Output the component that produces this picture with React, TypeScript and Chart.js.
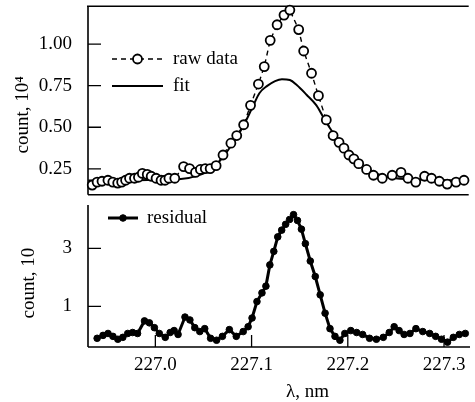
import React, { useEffect, useRef } from "react";
import { Chart, registerables } from "chart.js";
Chart.register(...registerables);

// ---- data ----
const rawX = [
  226.9344, 226.9395, 226.9446, 226.9508, 226.9559, 226.961, 226.9651, 226.9692, 226.9733, 226.9785,
  226.9826, 226.9867, 226.9918, 226.9959, 227.001, 227.0062, 227.0103, 227.0144, 227.0205, 227.0297,
  227.0359, 227.0421, 227.0472, 227.0523, 227.0574, 227.0636, 227.0708, 227.079, 227.0851, 227.0923,
  227.0995, 227.1077, 227.1138, 227.12, 227.1272, 227.1344, 227.1405, 227.1497, 227.1549, 227.1631,
  227.1703, 227.1785, 227.1856, 227.1918, 227.1969, 227.2021, 227.2072, 227.2123, 227.2205, 227.2277,
  227.2369, 227.2472, 227.2564, 227.2636, 227.2718, 227.281, 227.2882, 227.2964, 227.3046, 227.3138,
  227.3221,
];
const rawY = [
  0.152, 0.17, 0.175, 0.181, 0.17, 0.164, 0.17, 0.181, 0.193, 0.193,
  0.199, 0.222, 0.216, 0.205, 0.193, 0.181, 0.181, 0.193, 0.193, 0.263,
  0.251, 0.228, 0.246, 0.251, 0.251, 0.269, 0.333, 0.404, 0.45, 0.515,
  0.632, 0.76, 0.865, 1.023, 1.117, 1.175, 1.205, 1.088, 0.959, 0.825,
  0.69, 0.544, 0.45, 0.409, 0.374, 0.333, 0.31, 0.281, 0.246, 0.211,
  0.193, 0.211, 0.228, 0.193, 0.17, 0.205, 0.193, 0.175, 0.158, 0.17,
  0.181,
];
const fitX = [
  226.9303, 227.0246, 227.0451, 227.0605, 227.0718, 227.0821, 227.0913, 227.1015, 227.1087, 227.1169,
  227.1251, 227.1323, 227.1405, 227.1477, 227.1579, 227.1682, 227.1764, 227.1846, 227.1938, 227.2041,
  227.2144, 227.2297, 227.2503, 227.3272,
];
const fitY = [
  0.18, 0.187, 0.21, 0.257, 0.327, 0.415, 0.5, 0.62, 0.705, 0.749,
  0.778, 0.789, 0.784, 0.754, 0.696, 0.632, 0.55, 0.474, 0.398, 0.327,
  0.269, 0.222, 0.193, 0.18,
];
const resX = [
  226.9395, 226.9456, 226.9508, 226.9559, 226.961, 226.9662, 226.9713, 226.9764, 226.9815, 226.9887,
  226.9938, 226.999, 227.0041, 227.0103, 227.0154, 227.0195, 227.0236, 227.0308, 227.0359, 227.041,
  227.0462, 227.0513, 227.0574, 227.0636, 227.0697, 227.0769, 227.0841, 227.0913, 227.0964, 227.1005,
  227.1056, 227.1108, 227.1149, 227.119, 227.1231, 227.1272, 227.1313, 227.1354, 227.1395, 227.1436,
  227.1477, 227.1518, 227.1559, 227.161, 227.1662, 227.1713, 227.1764, 227.1815, 227.1867, 227.1918,
  227.1969, 227.2031, 227.2092, 227.2154, 227.2226, 227.2297, 227.2369, 227.2431, 227.2482, 227.2533,
  227.2585, 227.2646, 227.2708, 227.2779, 227.2851, 227.2913, 227.2974, 227.3036, 227.3097, 227.3159,
  227.3221,
];
const resY = [
  -0.1, 0.0, 0.067, -0.033, -0.133, -0.067, 0.067, 0.1, 0.067, 0.5,
  0.433, 0.267, 0.067, -0.067, 0.1, 0.167, 0.033, 0.633, 0.533, 0.267,
  0.133, 0.233, -0.1, -0.167, -0.033, 0.2, -0.033, 0.133, 0.3, 0.6,
  1.167, 1.467, 1.7, 2.433, 2.9, 3.4, 3.633, 3.833, 4.0, 4.167,
  3.967, 3.667, 3.167, 2.567, 2.033, 1.4, 0.767, 0.233, -0.033, -0.167,
  0.067, 0.167, 0.1, 0.033, -0.1, -0.133, -0.067, 0.1, 0.3, 0.167,
  0.033, 0.067, 0.233, 0.133, 0.067, -0.033, -0.133, -0.233, -0.067, 0.033,
  0.067,
];
const xTicks = [227.0, 227.1, 227.2, 227.3];
const topYTicks = [0.25, 0.5, 0.75, 1.0];
const botYTicks = [1, 3];
const X_MIN = 226.93;
const X_MAX = 227.327;
const TOP_MIN = 0.094;
const TOP_MAX = 1.228;
const BOT_MIN = -0.4;
const BOT_MAX = 4.5;

const FONT = "'Liberation Serif', 'Times New Roman', serif";
const FS = 19;

const framePlugin = {
  id: "frame",
  beforeDatasetsDraw(chart: any, _args: any, opts: any) {
    const { ctx, chartArea: a } = chart;
    ctx.save();
    ctx.strokeStyle = "#000";
    ctx.lineWidth = 1.6;
    ctx.beginPath();
    if (opts.top) {
      ctx.moveTo(a.left - 1, a.top);
      ctx.lineTo(a.right, a.top);
    }
    ctx.moveTo(a.left, a.top);
    ctx.lineTo(a.left, a.bottom);
    ctx.moveTo(a.left, a.bottom);
    ctx.lineTo(a.right, a.bottom);
    ctx.stroke();
    ctx.lineWidth = 1.3;
    ctx.beginPath();
    const ys = chart.scales.y;
    ys.ticks.forEach((t: any) => {
      const p = ys.getPixelForValue(t.value);
      ctx.moveTo(a.left, p);
      ctx.lineTo(a.left + 13, p);
    });
    const xs = chart.scales.x;
    if (opts.xticks && xs) {
      xs.ticks.forEach((t: any) => {
        const p = xs.getPixelForValue(t.value);
        ctx.moveTo(p, a.bottom);
        ctx.lineTo(p, a.bottom - 12);
      });
    }
    ctx.stroke();
    ctx.restore();
  },
};

const legendPlugin = {
  id: "miniLegend",
  afterDraw(chart: any, _args: any, opts: any) {
    const { ctx } = chart;
    ctx.save();
    (opts.items || []).forEach((it: any) => {
      const ds = chart.data.datasets[it.index];
      ctx.strokeStyle = "#000";
      ctx.lineWidth = ds.borderWidth;
      ctx.setLineDash(ds.borderDash || []);
      ctx.beginPath();
      ctx.moveTo(it.x0, it.y);
      ctx.lineTo(it.x1, it.y);
      ctx.stroke();
      ctx.setLineDash([]);
      if (ds.pointRadius > 0) {
        ctx.beginPath();
        ctx.arc((it.x0 + it.x1) / 2, it.y, ds.pointRadius, 0, Math.PI * 2);
        ctx.fillStyle = ds.pointBackgroundColor;
        ctx.fill();
        ctx.lineWidth = ds.pointBorderWidth;
        ctx.stroke();
      }
      ctx.fillStyle = "#000";
      ctx.font = `${FS}px ${FONT}`;
      ctx.textBaseline = "middle";
      ctx.textAlign = "left";
      ctx.fillText(ds.label, it.tx, it.y);
    });
    ctx.restore();
  },
};

function tickFont() {
  return { family: FONT, size: FS };
}

function noPadY(width: number) {
  return (ax: any) => {
    ax.width = width;
    ax.paddingTop = 0;
    ax.paddingBottom = 0;
  };
}

export default function App() {
  const topRef = useRef<HTMLCanvasElement>(null);
  const botRef = useRef<HTMLCanvasElement>(null);

  useEffect(() => {
    const rawPts = rawX.map((x, i) => ({ x, y: rawY[i] }));
    const fitPts = fitX.map((x, i) => ({ x, y: fitY[i] }));
    const resPts = resX.map((x, i) => ({ x, y: resY[i] }));

    const top = new Chart(topRef.current as HTMLCanvasElement, {
      type: "line",
      data: {
        datasets: [
          {
            label: "fit",
            data: fitPts,
            borderColor: "#000",
            borderWidth: 2,
            pointRadius: 0,
            cubicInterpolationMode: "monotone",
            fill: false,
            order: 2,
          } as any,
          {
            label: "raw data",
            data: rawPts,
            borderColor: "#000",
            borderWidth: 1.4,
            borderDash: [5, 4],
            pointRadius: 4.5,
            pointBackgroundColor: "#fff",
            pointBorderColor: "#000",
            pointBorderWidth: 1.8,
            fill: false,
            clip: false,
            order: 1,
          } as any,
        ],
      },
      options: {
        responsive: false,
        animation: false,
        layout: { padding: { top: 6, bottom: 1, left: 0, right: 0 } },
        plugins: {
          legend: { display: false },
          tooltip: { enabled: false },
          frame: { top: true, xticks: false },
          miniLegend: {
            items: [
              { index: 1, x0: 112, x1: 163, y: 59, tx: 173 },
              { index: 0, x0: 112, x1: 163, y: 86, tx: 173 },
            ],
          },
        } as any,
        scales: {
          x: { type: "linear", min: X_MIN, max: X_MAX, display: false },
          y: {
            type: "linear",
            min: TOP_MIN,
            max: TOP_MAX,
            grid: { display: false },
            border: { display: false },
            afterBuildTicks: (ax: any) => {
              ax.ticks = topYTicks.map((v) => ({ value: v }));
            },
            afterFit: noPadY(88),
            ticks: {
              padding: 8,
              color: "#000",
              font: tickFont(),
              callback: (v: any) => Number(v).toFixed(2),
            },
            title: {
              display: true,
              text: "count, 10\u2074\u2002\u2002\u2002",
              color: "#000",
              font: tickFont(),
              padding: { top: 12, bottom: 0 },
            },
          },
        },
      },
      plugins: [framePlugin, legendPlugin],
    });

    const bot = new Chart(botRef.current as HTMLCanvasElement, {
      type: "line",
      data: {
        datasets: [
          {
            label: "residual",
            data: resPts,
            borderColor: "#000",
            borderWidth: 3,
            pointRadius: 3.3,
            pointBackgroundColor: "#000",
            pointBorderColor: "#000",
            pointBorderWidth: 1,
            fill: false,
            clip: false,
          } as any,
        ],
      },
      options: {
        responsive: false,
        animation: false,
        layout: { padding: { top: 0, bottom: 0, left: 0, right: 0 } },
        plugins: {
          legend: { display: false },
          tooltip: { enabled: false },
          frame: { top: false, xticks: true },
          miniLegend: {
            items: [{ index: 0, x0: 108, x1: 138, y: 18, tx: 147 }],
          },
        } as any,
        scales: {
          x: {
            type: "linear",
            min: X_MIN,
            max: X_MAX,
            grid: { display: false },
            border: { display: false },
            afterBuildTicks: (ax: any) => {
              ax.ticks = xTicks.map((v) => ({ value: v }));
            },
            afterFit: (ax: any) => {
              ax.height = 55;
              ax.paddingLeft = 0;
              ax.paddingRight = 0;
            },
            ticks: {
              padding: -1,
              color: "#000",
              font: tickFont(),
              maxRotation: 0,
              autoSkip: false,
              callback: (v: any) => Number(v).toFixed(1),
            },
            title: {
              display: true,
              text: "\u2002\u2002\u2002\u2002\u2002\u2002λ, nm",
              color: "#000",
              font: tickFont(),
              padding: { top: 0, bottom: -1 },
            },
          },
          y: {
            type: "linear",
            min: BOT_MIN,
            max: BOT_MAX,
            grid: { display: false },
            border: { display: false },
            afterBuildTicks: (ax: any) => {
              ax.ticks = botYTicks.map((v) => ({ value: v }));
            },
            afterFit: noPadY(88),
            ticks: {
              padding: 8,
              color: "#000",
              font: tickFont(),
              callback: (v: any) => String(v),
            },
            title: {
              display: true,
              text: "count, 10\u2002 ",
              color: "#000",
              font: tickFont(),
              padding: { top: 18, bottom: 0 },
            },
          },
        },
      },
      plugins: [framePlugin, legendPlugin],
    });

    return () => {
      top.destroy();
      bot.destroy();
    };
  }, []);

  return (
    <div
      style={{
        position: "fixed",
        left: 0,
        top: 0,
        width: 475,
        height: 402,
        background: "#fff",
        overflow: "hidden",
      }}
    >
      <canvas
        ref={topRef}
        width={475}
        height={201}
        style={{ position: "absolute", left: 0, top: 0, width: 475, height: 201 }}
      />
      <canvas
        ref={botRef}
        width={475}
        height={202}
        style={{ position: "absolute", left: 0, top: 200, width: 475, height: 202 }}
      />
    </div>
  );
}
